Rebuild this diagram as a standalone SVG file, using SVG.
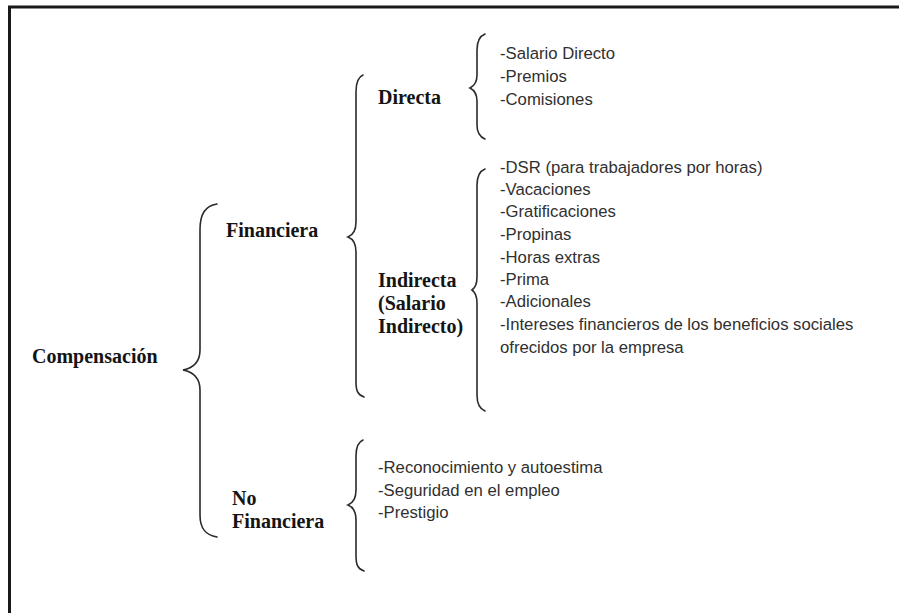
<svg xmlns="http://www.w3.org/2000/svg" width="899" height="613" viewBox="0 0 899 613">
<style>
.h{font-family:"Liberation Serif","Times New Roman",serif;font-weight:bold;font-size:20px;fill:#141414}
.t{font-family:"Liberation Sans",Arial,sans-serif;font-size:16.7px;fill:#303030}
.b{fill:none;stroke:#2a2a2a;stroke-width:1.6;stroke-linecap:round}
</style>
<rect width="899" height="613" fill="#ffffff"/>
<path d="M9.5,613 V7 H899" fill="none" stroke="#1a1a1a" stroke-width="3"/>
<g id="connectors">
<path class="b" d="M217,204 C205,206 200,214 200,230 L200,350 C200,362 193,368 183,370 C193,372 200,378 200,390 L200,515 C200,528 205,535 217,537"/>
<path class="b" d="M363,75 C358,77 356,82 356,92 L356,222 C356,231 353,235 348,237 C353,239 356,243 356,252 L356,382 C356,391 358,395 364,397"/>
<path class="b" d="M363,440 C358,442 356,447 356,456 L356,490 C356,499 353,503 348,505 C353,507 356,511 356,520 L356,556 C356,565 358,569 364,571"/>
<path class="b" d="M485,34 C480,36 477,41 477,50 L477,75 C477,83 474,86 470,88 C474,90 477,93 477,101 L477,125 C477,133 480,137 485,139"/>
<path class="b" d="M485,169 C480,171 477,176 477,185 L477,277 C477,285 475,288 472,290 C475,292 477,295 477,303 L477,395 C477,404 480,409 485,411"/>
</g>
<g id="compensacion"><text class="h" x="32" y="363">Compensación</text></g>
<g id="financiera"><text class="h" x="226" y="237">Financiera</text></g>
<g id="no-financiera"><text class="h" x="232" y="505">No</text><text class="h" x="232" y="528">Financiera</text></g>
<g id="directa"><text class="h" x="378" y="104">Directa</text></g>
<g id="indirecta"><text class="h" x="378" y="287">Indirecta</text><text class="h" x="378" y="310">(Salario</text><text class="h" x="378" y="333">Indirecto)</text></g>
<g id="directa-items">
<text class="t" x="500" y="59">-Salario Directo</text>
<text class="t" x="500" y="82">-Premios</text>
<text class="t" x="500" y="105">-Comisiones</text>
</g>
<g id="indirecta-items">
<text class="t" x="500" y="173">-DSR (para trabajadores por horas)</text>
<text class="t" x="500" y="195">-Vacaciones</text>
<text class="t" x="500" y="217">-Gratificaciones</text>
<text class="t" x="500" y="240">-Propinas</text>
<text class="t" x="500" y="263">-Horas extras</text>
<text class="t" x="500" y="285">-Prima</text>
<text class="t" x="500" y="307">-Adicionales</text>
<text class="t" x="500" y="330">-Intereses financieros de los beneficios sociales</text>
<text class="t" x="500" y="353">ofrecidos por la empresa</text>
</g>
<g id="no-financiera-items">
<text class="t" x="378" y="473">-Reconocimiento y autoestima</text>
<text class="t" x="378" y="496">-Seguridad en el empleo</text>
<text class="t" x="378" y="518">-Prestigio</text>
</g>
</svg>
